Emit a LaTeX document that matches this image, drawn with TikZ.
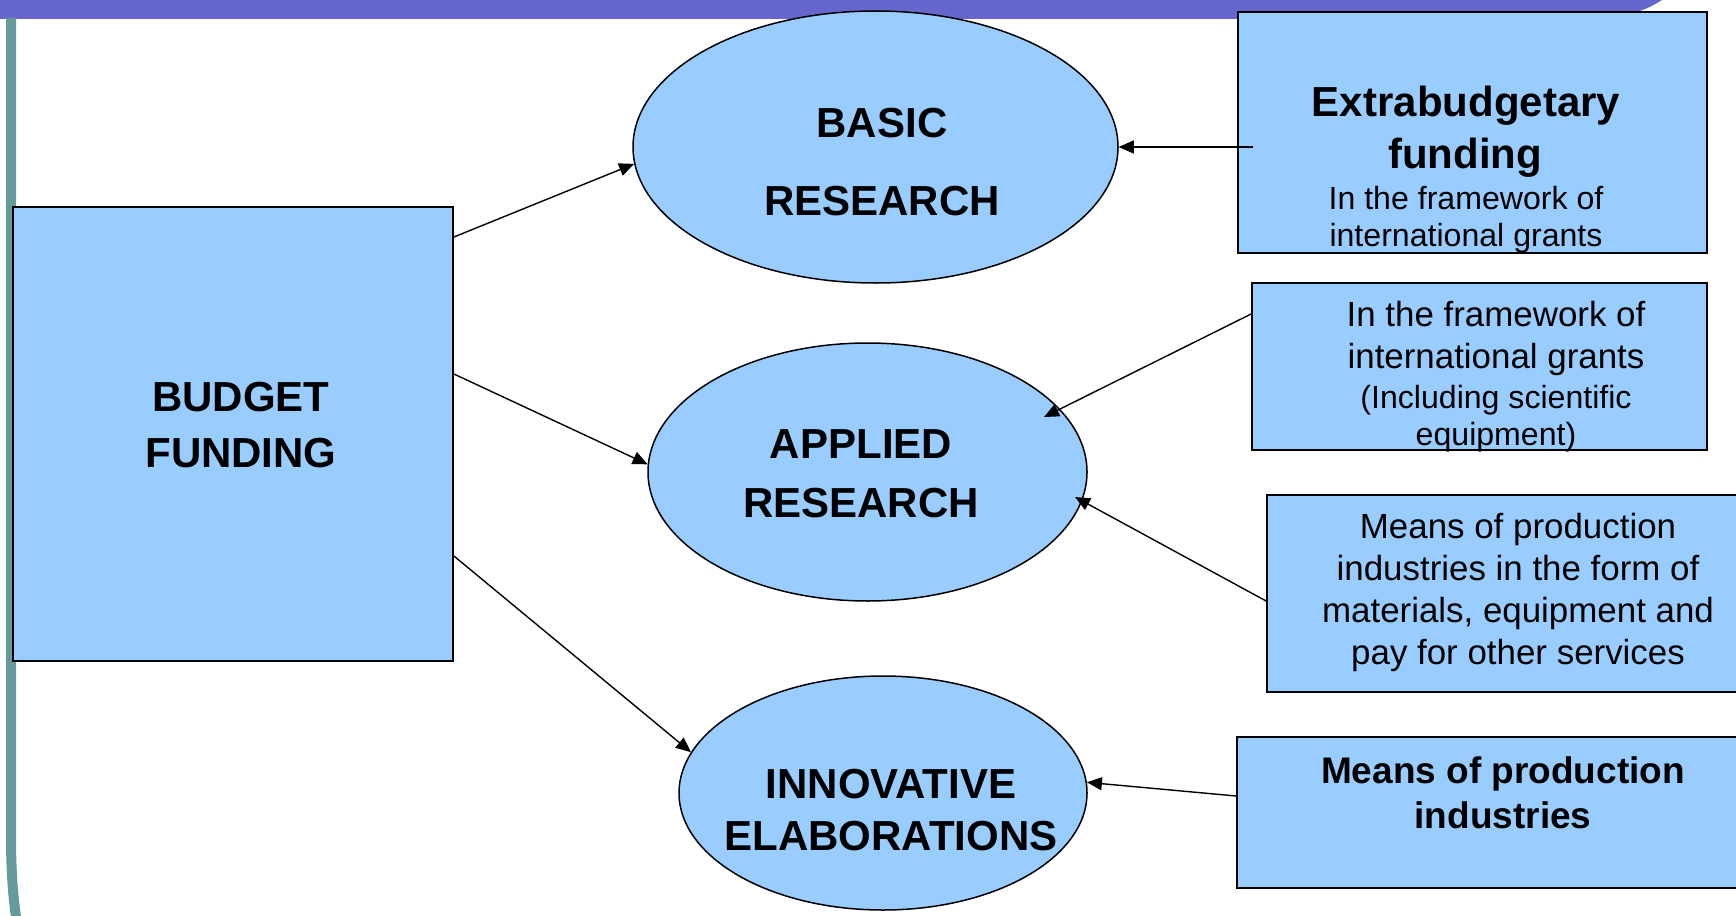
\documentclass[tikz,border=0pt]{standalone}
\usepackage{fontspec}
\setmainfont{Liberation Sans}
\usetikzlibrary{shapes.geometric,arrows.meta,calc}
\definecolor{barpurple}{HTML}{6666CC}
\definecolor{barteal}{HTML}{669999}
\definecolor{boxblue}{HTML}{99CCFF}
\tikzset{
  boxshape/.style={draw=black, line width=1.8pt, fill=boxblue, rectangle, inner sep=0pt},
  ellshape/.style={draw=black, line width=1.5pt, fill=boxblue, ellipse, inner sep=0pt},
  conn/.style={draw=black, line width=1.4pt, -{Triangle[length=15pt,width=13pt]}},
  bigbold/.style={font=\fontsize{42}{48}\selectfont\bfseries, anchor=base, inner sep=0pt},
  midbold/.style={font=\fontsize{37}{42}\selectfont\bfseries, anchor=base, inner sep=0pt},
  regtext/.style={font=\fontsize{34.9}{40}\selectfont, anchor=base, inner sep=0pt},
  smalltext/.style={font=\fontsize{32.1}{38}\selectfont, anchor=base, inner sep=0pt}
}
\begin{document}
\begin{tikzpicture}[x=1pt,y=-1pt]
\useasboundingbox (0,0) rectangle (1736,915);
\clip (0,0) rectangle (1736,915);
% frame decoration
\fill[barpurple] (0,0) -- (1662,0) .. controls (1648,9) and (1632,16) .. (1600,19) -- (0,19) -- cycle;
\draw[barteal, line width=10pt] (11,18) -- (11,835) .. controls (11,880) and (14,905) .. (18,930);
% shapes
\node[boxshape, minimum width=440pt, minimum height=454pt] (budget) at (233,434) {};
\node[ellshape, minimum width=485pt, minimum height=272pt] (basic) at (875.5,147) {};
\node[ellshape, minimum width=439pt, minimum height=258pt] (applied) at (867.5,472) {};
\node[ellshape, minimum width=408pt, minimum height=234pt] (innov) at (883,793) {};
\node[boxshape, minimum width=469pt, minimum height=241pt] (extra) at (1472.5,132.5) {};
\node[boxshape, minimum width=455pt, minimum height=167pt] (grants) at (1479.5,366.5) {};
\node[boxshape, minimum width=493pt, minimum height=197pt] (means) at (1513.5,593.5) {};
\node[boxshape, minimum width=523pt, minimum height=151pt] (meansb) at (1498.5,812.5) {};
% texts
\node[bigbold] (tbudget1) at (241,411) {BUDGET};
\node[bigbold] (tbudget2) at (241,467) {FUNDING};
\node[bigbold] (tbasic1) at (882,138) {BASIC};
\node[bigbold] (tbasic2) at (882,215) {RESEARCH};
\node[bigbold] (tapp1) at (861,458) {APPLIED};
\node[bigbold] (tapp2) at (861,517) {RESEARCH};
\node[bigbold] (tinn1) at (891,798) {INNOVATIVE};
\node[bigbold] (tinn2) at (891,850) {ELABORATIONS};
\node[bigbold] (text1) at (1466,117) {Extrabudgetary};
\node[bigbold] (text2) at (1465,168) {funding};
\node[smalltext] (text3) at (1466,209) {In the framework of};
\node[smalltext] (text4) at (1466,246) {international grants};
\node[regtext] (tgr1) at (1496,326) {In the framework of};
\node[regtext] (tgr2) at (1496,368) {international grants};
\node[smalltext] (tgr3) at (1496,408) {(Including scientific};
\node[smalltext] (tgr4) at (1496,445) {equipment)};
\node[regtext] (tm1) at (1518,538) {Means of production};
\node[regtext] (tm2) at (1518,580) {industries in the form of};
\node[regtext] (tm3) at (1518,622) {materials, equipment and};
\node[regtext] (tm4) at (1518,664) {pay for other services};
\node[midbold] (tmb1) at (1503,783) {Means of production};
\node[midbold] (tmb2) at (1503,828) {industries};
% connectors
\draw[conn] ([yshift=197pt]budget.east) -- (basic.184);
\draw[conn] ([yshift=60pt]budget.east) -- (applied.178);
\draw[conn] ([yshift=-122pt]budget.east) -- (innov.168);
\draw[conn] ([xshift=16pt,yshift=-14.5pt]extra.west) -- (basic.east);
\draw[conn] ([yshift=52.5pt]grants.west) -- ($(applied.center)+(176.5,-55)$);
\draw[conn] ([yshift=-7.5pt]means.west) -- ($(applied.center)+(207.5,25)$);
\draw[conn] ([yshift=16.5pt]meansb.west) -- (innov.3);
\end{tikzpicture}
\end{document}
